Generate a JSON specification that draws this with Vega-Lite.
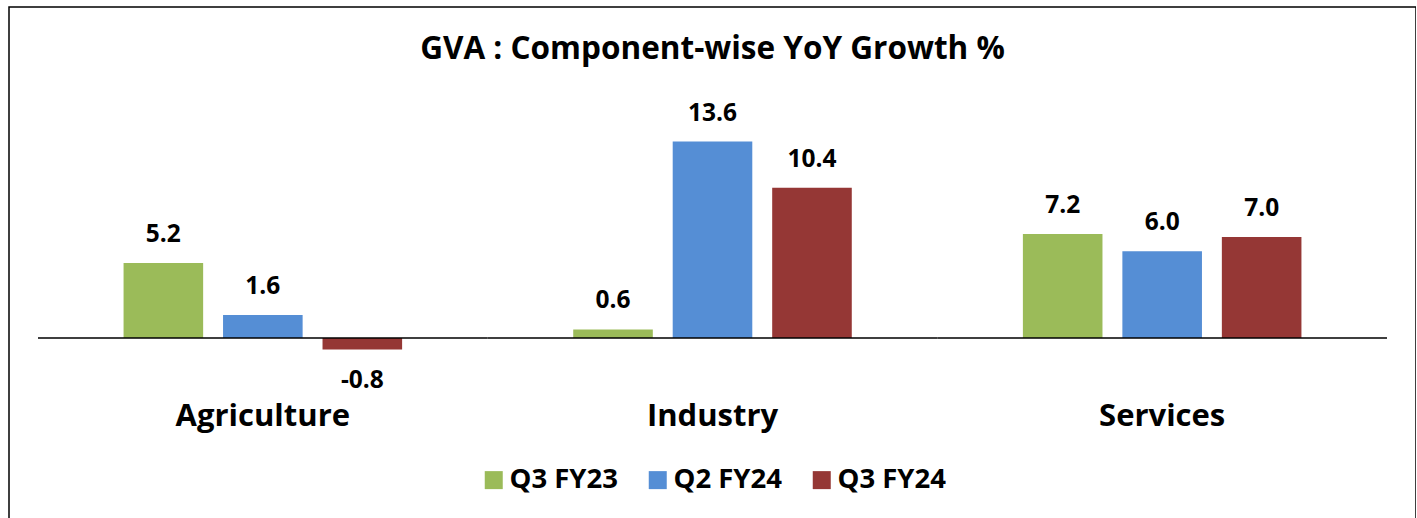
{
  "$schema": "https://vega.github.io/schema/vega-lite/v6.json",
  "width": 1407,
  "height": 515,
  "autosize": {"type": "none"},
  "padding": {"left": 9, "top": 7, "right": 0, "bottom": 0},
  "background": "white",
  "config": {
    "view": {"stroke": "black", "strokeWidth": 1.5},
    "font": "Open Sans",
    "locale": {"number": {"decimal": ".", "thousands": ",", "grouping": [3], "currency": ["$", ""], "minus": "-"}}
  },
  "title": {
    "text": "GVA : Component-wise YoY Growth %",
    "font": "Open Sans",
    "fontSize": 31.5,
    "fontWeight": "bold",
    "color": "black",
    "anchor": "middle",
    "baseline": "alphabetic",
    "offset": -83
  },
  "data": {
    "values": [
      {"Category": "Agriculture", "Series": "Q3 FY23", "Value": 5.2},
      {"Category": "Agriculture", "Series": "Q2 FY24", "Value": 1.6},
      {"Category": "Agriculture", "Series": "Q3 FY24", "Value": -0.8},
      {"Category": "Industry", "Series": "Q3 FY23", "Value": 0.6},
      {"Category": "Industry", "Series": "Q2 FY24", "Value": 13.6},
      {"Category": "Industry", "Series": "Q3 FY24", "Value": 10.4},
      {"Category": "Services", "Series": "Q3 FY23", "Value": 7.2},
      {"Category": "Services", "Series": "Q2 FY24", "Value": 6.0},
      {"Category": "Services", "Series": "Q3 FY24", "Value": 7.0}
    ]
  },
  "encoding": {
    "x": {
      "field": "Category",
      "type": "nominal",
      "sort": ["Agriculture", "Industry", "Services"],
      "scale": {"paddingInner": 0, "paddingOuter": 0.0645},
      "axis": null
    }
  },
  "layer": [
    {
      "mark": {"type": "bar"},
      "encoding": {
        "xOffset": {
          "field": "Series",
          "type": "nominal",
          "sort": ["Q3 FY23", "Q2 FY24", "Q3 FY24"],
          "scale": {"paddingInner": 0.2, "paddingOuter": 0.86}
        },
        "y": {
          "field": "Value",
          "type": "quantitative",
          "scale": {"domain": [-12.73, 22.91], "nice": false, "zero": false},
          "axis": null
        },
        "color": {
          "field": "Series",
          "type": "nominal",
          "sort": ["Q3 FY23", "Q2 FY24", "Q3 FY24"],
          "scale": {
            "domain": ["Q3 FY23", "Q2 FY24", "Q3 FY24"],
            "range": ["#9BBB59", "#558ED5", "#953735"]
          },
          "legend": {
            "title": null,
            "orient": "none",
            "direction": "horizontal",
            "legendX": 471,
            "legendY": 459,
            "gridAlign": "all",
            "symbolType": "square",
            "symbolSize": 324,
            "symbolStrokeWidth": 0,
            "labelFont": "Open Sans",
            "labelFontSize": 27.5,
            "labelFontWeight": "bold",
            "labelColor": "black",
            "labelOffset": 2,
            "columnPadding": 26,
            "labelLimit": 300
          }
        }
      }
    },
    {
      "transform": [{"filter": "datum.Value >= 0"}],
      "mark": {
        "type": "text",
        "font": "Open Sans",
        "fontSize": 24.5,
        "fontWeight": "bold",
        "color": "black",
        "baseline": "alphabetic",
        "align": "center",
        "dy": -21
      },
      "encoding": {
        "xOffset": {"field": "Series", "type": "nominal", "sort": ["Q3 FY23", "Q2 FY24", "Q3 FY24"]},
        "y": {"field": "Value", "type": "quantitative"},
        "text": {"field": "Value", "type": "quantitative", "format": ".1f"}
      }
    },
    {
      "transform": [{"filter": "datum.Value < 0"}],
      "mark": {
        "type": "text",
        "font": "Open Sans",
        "fontSize": 24.5,
        "fontWeight": "bold",
        "color": "black",
        "baseline": "alphabetic",
        "align": "center",
        "dy": 38
      },
      "encoding": {
        "xOffset": {"field": "Series", "type": "nominal", "sort": ["Q3 FY23", "Q2 FY24", "Q3 FY24"]},
        "y": {"field": "Value", "type": "quantitative"},
        "text": {"field": "Value", "type": "quantitative", "format": ".1f"}
      }
    },
    {
      "transform": [{"filter": "datum.Series === 'Q3 FY23'"}],
      "mark": {"type": "rect", "fill": null, "stroke": "black", "strokeWidth": 1.5},
      "encoding": {
        "y": {"datum": 0},
        "y2": {"datum": 0}
      }
    },
    {
      "transform": [{"filter": "datum.Series === 'Q3 FY23'"}],
      "mark": {
        "type": "text",
        "font": "Open Sans",
        "fontSize": 31,
        "fontWeight": "bold",
        "color": "black",
        "baseline": "alphabetic",
        "align": "center"
      },
      "encoding": {
        "y": {"datum": -6.1},
        "text": {"field": "Category", "type": "nominal"}
      }
    }
  ]
}
